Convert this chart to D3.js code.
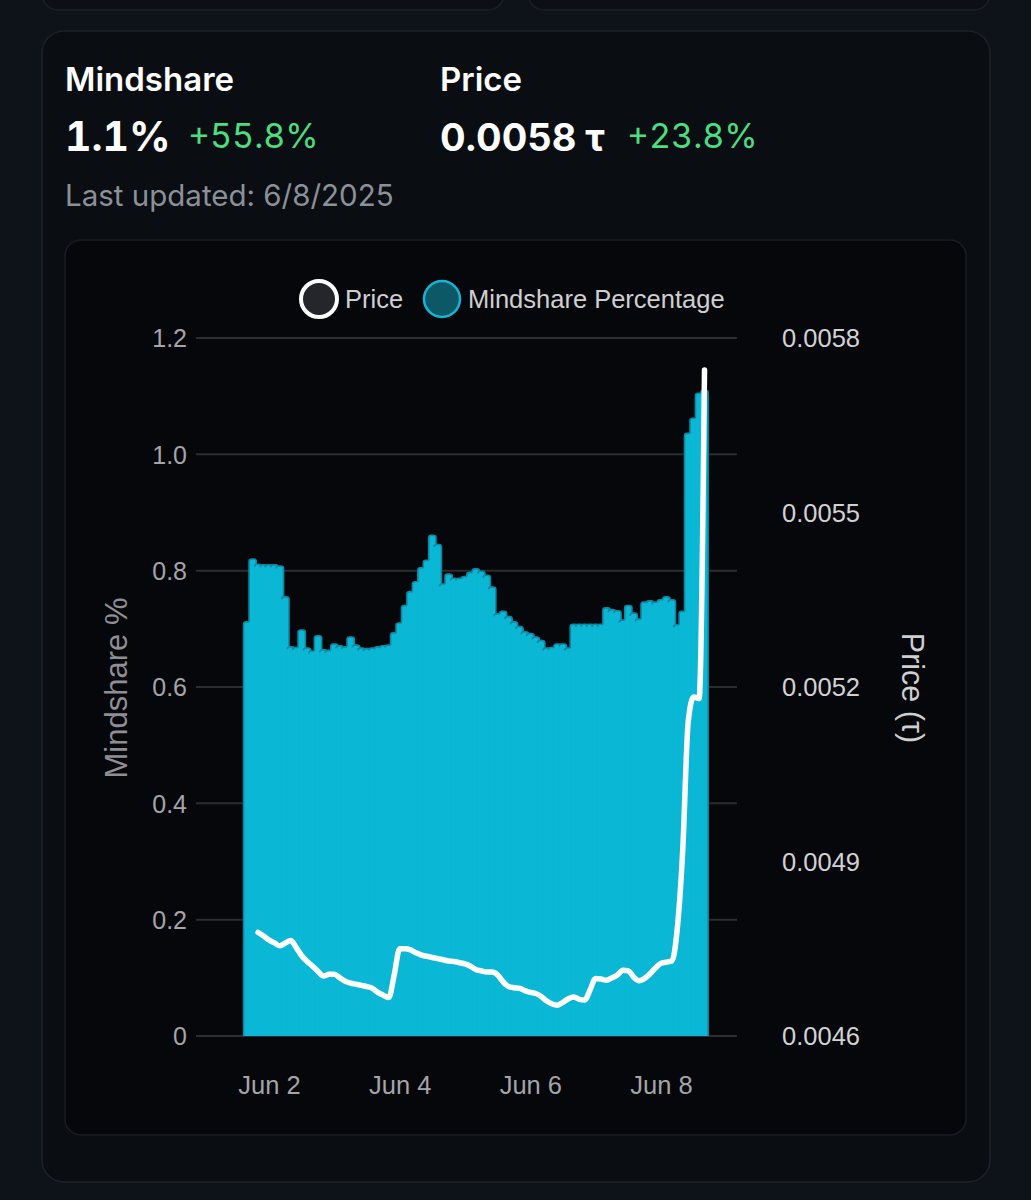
<!DOCTYPE html>
<html>
<head>
<meta charset="utf-8">
<script src="https://cdn.jsdelivr.net/npm/d3@7"></script>
<style>
  html, body { margin: 0; padding: 0; background: #0e1219; }
  svg { display: block; }
  .tnum { font-feature-settings: "tnum" 1; font-variant-numeric: tabular-nums; }
</style>
</head>
<body>
<svg id="chart" width="1031" height="1200"></svg>
<script>
// ---------------- DATA ----------------
const headerMindshare = "1.1%";
const headerMindshareChange = "+55.8%";
const headerPrice = "0.0058 τ";
const headerPriceChange = "+23.8%";
const lastUpdated = "Last updated: 6/8/2025";

const seriesNames = ["Price", "Mindshare Percentage"];

// bar timestamps: every 2 hours starting Jun 1 2025 16:00
const barStart = new Date(2025, 5, 1, 16);
const barStepHours = 2;

const mindshare = [
  0.712, 0.820, 0.811, 0.810, 0.810, 0.810, 0.808, 0.755, 0.669, 0.668,
  0.698, 0.667, 0.662, 0.688, 0.664, 0.663, 0.674, 0.671, 0.669, 0.686,
  0.672, 0.667, 0.666, 0.667, 0.669, 0.671, 0.672, 0.693, 0.710, 0.740,
  0.764, 0.781, 0.805, 0.818, 0.861, 0.845, 0.777, 0.794, 0.787, 0.787,
  0.790, 0.797, 0.803, 0.799, 0.792, 0.772, 0.726, 0.730, 0.721, 0.712,
  0.704, 0.695, 0.692, 0.686, 0.680, 0.667, 0.668, 0.674, 0.674, 0.667,
  0.708, 0.708, 0.708, 0.708, 0.708, 0.708, 0.736, 0.733, 0.731, 0.715,
  0.740, 0.727, 0.717, 0.746, 0.748, 0.746, 0.750, 0.755, 0.750, 0.707,
  0.730, 1.036, 1.062, 1.105, 1.110
];

// price points start at the 3rd bar timestamp (Jun 1 20:00), same 2h step
const priceOffset = 2;
const price = [
  0.004778, 0.004772, 0.004765, 0.004760, 0.004755, 0.004760, 0.004764, 0.004752,
  0.004738, 0.004728, 0.004720, 0.004711, 0.004703, 0.004706, 0.004706, 0.004700,
  0.004694, 0.004691, 0.004689, 0.004687, 0.004685, 0.004682, 0.004675, 0.004670,
  0.004666, 0.004705, 0.004750, 0.004750, 0.004748, 0.004743, 0.004739, 0.004737,
  0.004735, 0.004733, 0.004731, 0.004729, 0.004728, 0.004726, 0.004724, 0.004720,
  0.004714, 0.004712, 0.004710, 0.004710, 0.004705, 0.004693, 0.004685, 0.004683,
  0.004682, 0.004678, 0.004675, 0.004673, 0.004668, 0.004660, 0.004655, 0.004653,
  0.004658, 0.004664, 0.004667, 0.004663, 0.004662, 0.004680, 0.004699, 0.004698,
  0.004696, 0.004700, 0.004705, 0.004713, 0.004712, 0.004701, 0.004695, 0.004699,
  0.004707, 0.004717, 0.004725, 0.004727, 0.004729, 0.004785, 0.004920, 0.005140,
  0.005183, 0.005180, 0.005745
];

const leftTicks = [0, 0.2, 0.4, 0.6, 0.8, 1.0, 1.2];
const leftTickLabels = ["0", "0.2", "0.4", "0.6", "0.8", "1.0", "1.2"];
const rightTicks = [0.0046, 0.0049, 0.0052, 0.0055, 0.0058];
const rightTickLabels = ["0.0046", "0.0049", "0.0052", "0.0055", "0.0058"];
const xTickDates = [new Date(2025,5,2), new Date(2025,5,4), new Date(2025,5,6), new Date(2025,5,8)];
const xTickLabels = ["Jun 2", "Jun 4", "Jun 6", "Jun 8"];
const leftAxisTitle = "Mindshare %";
const rightAxisTitle = "Price (τ)";

// ---------------- DRAW ----------------
const svg = d3.select("#chart");
const HFONT = "Inter, 'Noto Sans', sans-serif";
const AFONT = "'Liberation Sans', Arial, sans-serif";

// partial cards at top
svg.append("rect").attr("x", 42).attr("y", -40).attr("width", 462).attr("height", 50)
  .attr("rx", 16).attr("fill", "#0c0f15").attr("stroke", "#1c2028").attr("stroke-width", 1.5);
svg.append("rect").attr("x", 528).attr("y", -40).attr("width", 462).attr("height", 50)
  .attr("rx", 16).attr("fill", "#0c0f15").attr("stroke", "#1c2028").attr("stroke-width", 1.5);

// main card
svg.append("rect").attr("x", 42).attr("y", 31).attr("width", 948).attr("height", 1151)
  .attr("rx", 22).attr("fill", "#0a0d12").attr("stroke", "#1c2028").attr("stroke-width", 1.5);

// header
svg.append("text").attr("x", 65).attr("y", 91).text("Mindshare")
  .attr("font-family", HFONT).attr("font-size", 33).attr("font-weight", 600).attr("fill", "#ffffff");
svg.append("text").attr("x", 440).attr("y", 91).text("Price")
  .attr("font-family", HFONT).attr("font-size", 33).attr("font-weight", 600).attr("fill", "#ffffff");
svg.append("text").attr("class", "tnum").attr("x", 65).attr("y", 151).text(headerMindshare)
  .attr("font-family", HFONT).attr("font-size", 41).attr("font-weight", 700).attr("fill", "#ffffff");
svg.append("text").attr("class", "tnum").attr("x", 188).attr("y", 148).text(headerMindshareChange)
  .attr("font-family", HFONT).attr("font-size", 34).attr("font-weight", 400).attr("fill", "#4ade80");
svg.append("text").attr("x", 440).attr("y", 151).text(headerPrice)
  .attr("font-family", HFONT).attr("font-size", 38).attr("font-weight", 700).attr("fill", "#ffffff");
svg.append("text").attr("class", "tnum").attr("x", 627).attr("y", 148).text(headerPriceChange)
  .attr("font-family", HFONT).attr("font-size", 34).attr("font-weight", 400).attr("fill", "#4ade80");
svg.append("text").attr("x", 65).attr("y", 206).text(lastUpdated)
  .attr("font-family", HFONT).attr("font-size", 29.5).attr("font-weight", 400).attr("fill", "#8b9099");

// chart panel
svg.append("rect").attr("x", 65).attr("y", 240).attr("width", 901).attr("height", 895)
  .attr("rx", 16).attr("fill", "#06070a").attr("stroke", "#1a1d24").attr("stroke-width", 1.5);

// scales
const x = d3.scaleTime()
  .domain([new Date(2025,5,1), new Date(2025,5,9)])
  .range([203.7, 726.3]);
const yL = d3.scaleLinear().domain([0, 1.2]).range([1036, 338]);
const yR = d3.scaleLinear().domain([0.0046, 0.0058]).range([1036, 338]);
const gridX0 = 196, gridX1 = 737;

// grid
svg.append("g").selectAll("line").data(leftTicks).join("line")
  .attr("x1", gridX0).attr("x2", gridX1)
  .attr("y1", d => yL(d)).attr("y2", d => yL(d))
  .attr("stroke", "#2c2d31").attr("stroke-width", 2);

// left axis
const leftAxis = d3.axisLeft(yL).tickValues(leftTicks)
  .tickFormat((d, i) => leftTickLabels[i]).tickSize(0).tickPadding(0);
const gL = svg.append("g").attr("transform", "translate(187,0)").call(leftAxis);
gL.select(".domain").remove();
gL.selectAll("text").attr("font-family", AFONT).attr("font-size", 25).attr("fill", "#a4a4a9")
  .attr("dy", "0.35em");

// right axis
const rightAxis = d3.axisRight(yR).tickValues(rightTicks)
  .tickFormat((d, i) => rightTickLabels[i]).tickSize(0).tickPadding(0);
const gR = svg.append("g").attr("transform", "translate(782,0)").call(rightAxis);
gR.select(".domain").remove();
gR.selectAll("text").attr("font-family", AFONT).attr("font-size", 25.5).attr("fill", "#d2d2d4")
  .attr("dy", "0.35em");

// bottom axis
const bottomAxis = d3.axisBottom(x).tickValues(xTickDates)
  .tickFormat((d, i) => xTickLabels[i]).tickSize(0).tickPadding(0);
const gB = svg.append("g").attr("transform", "translate(0,1085)").call(bottomAxis);
gB.select(".domain").remove();
gB.selectAll("text").attr("font-family", AFONT).attr("font-size", 25.5).attr("fill", "#a4a4a9")
  .attr("dy", "0.35em");

// axis titles
svg.append("text").attr("transform", "translate(127,688) rotate(-90)")
  .attr("text-anchor", "middle").text(leftAxisTitle)
  .attr("font-family", AFONT).attr("font-size", 31).attr("fill", "#8e8e94");
svg.append("text").attr("transform", "translate(902,688) rotate(90)")
  .attr("text-anchor", "middle").text(rightAxisTitle)
  .attr("font-family", AFONT).attr("font-size", 30.5).attr("fill", "#cfcfd2");

// bars
const barTimes = mindshare.map((v, i) => new Date(barStart.getTime() + i * barStepHours * 3600e3));
const step = x(barTimes[1]) - x(barTimes[0]);
const bw = step + 1.8;
const r = 2.5;
const gBars = svg.append("g");
mindshare.forEach((v, i) => {
  const cx = x(barTimes[i]);
  const x0 = cx - bw / 2, x1 = cx + bw / 2;
  const yt = yL(v), yb = yL(0);
  const fillPath = `M${x0},${yb} L${x0},${yt + r} Q${x0},${yt} ${x0 + r},${yt} L${x1 - r},${yt} Q${x1},${yt} ${x1},${yt + r} L${x1},${yb} Z`;
  gBars.append("path").attr("d", fillPath).attr("fill", "#0ab7d5");
  const prevTop = i > 0 ? yL(mindshare[i - 1]) : yb;
  const leftStart = Math.max(Math.min(prevTop, yb), yt + r);
  const strokePath = `M${x0},${leftStart} L${x0},${yt + r} Q${x0},${yt} ${x0 + r},${yt} L${x1 - r},${yt} Q${x1},${yt} ${x1},${yt + r} L${x1},${yb}`;
  gBars.append("path").attr("d", strokePath).attr("fill", "none")
    .attr("stroke", "#0d8aa3").attr("stroke-width", 1.6);
});

// price line
const priceTimes = price.map((v, i) => new Date(barStart.getTime() + (i + priceOffset) * barStepHours * 3600e3));
const line = d3.line().x((d, i) => x(priceTimes[i])).y(d => yR(d)).curve(d3.curveMonotoneX);
svg.append("path").datum(price).attr("d", line).attr("fill", "none")
  .attr("stroke", "#ffffff").attr("stroke-width", 5.5).attr("stroke-linecap", "round").attr("stroke-linejoin", "round");

// legend
const lg = svg.append("g");
lg.append("circle").attr("cx", 319).attr("cy", 299).attr("r", 18)
  .attr("fill", "#25262b").attr("stroke", "#ffffff").attr("stroke-width", 4);
lg.append("text").attr("x", 345).attr("y", 299).attr("dy", "0.35em").text(seriesNames[0])
  .attr("font-family", AFONT).attr("font-size", 25.5).attr("fill", "#cfcfd2");
lg.append("circle").attr("cx", 442).attr("cy", 299).attr("r", 18)
  .attr("fill", "#0c5866").attr("stroke", "#14b4d2").attr("stroke-width", 2.5);
lg.append("text").attr("x", 468).attr("y", 299).attr("dy", "0.35em").text(seriesNames[1])
  .attr("font-family", AFONT).attr("font-size", 25.5).attr("fill", "#cfcfd2");
</script>
</body>
</html>
